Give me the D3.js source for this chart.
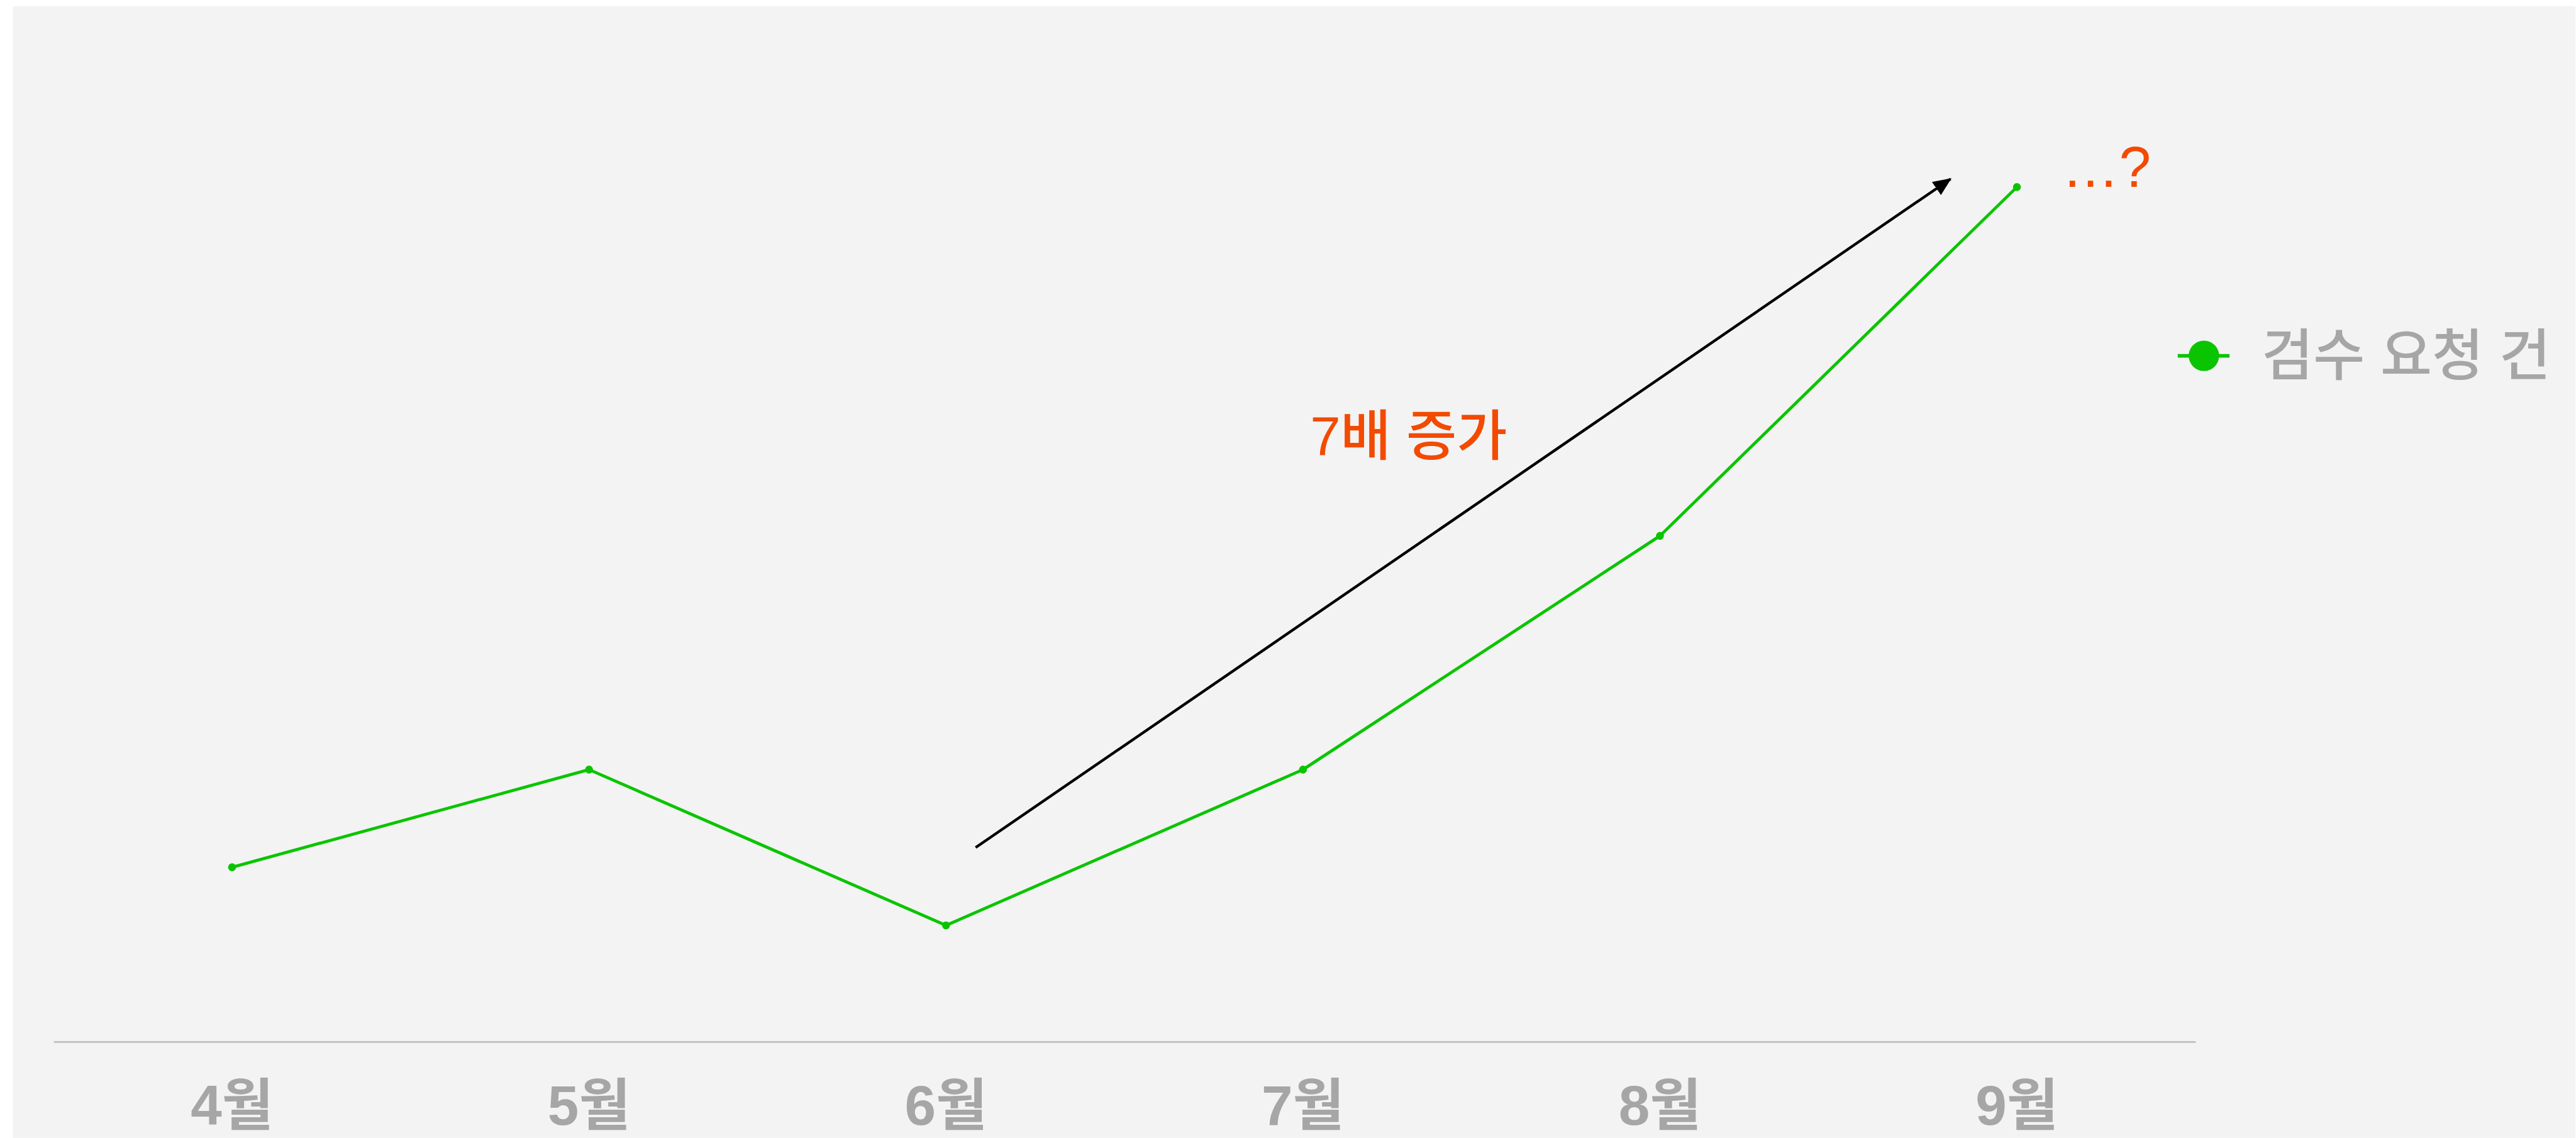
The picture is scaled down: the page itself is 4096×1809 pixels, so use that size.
<!DOCTYPE html>
<html lang="ko">
    <head>
        <meta charset="utf-8" />
        <title>검수 요청 건</title>
        <script src="https://cdnjs.cloudflare.com/ajax/libs/d3/7.7.0/d3.min.js"></script>
        <style>
            html, body { margin: 0; padding: 0; background: #ffffff; overflow: hidden; }
            svg { display: block; }
            text { font-family: "Liberation Sans", "Noto Sans CJK KR", sans-serif; }
        </style>
    </head>
    <body>
        <div class="graph"></div>
        <script>
    // data
    const months = ["4월", "5월", "6월", "7월", "8월", "9월"];
    const requests = [15.0, 23.4, 10.0, 23.4, 43.5, 73.5];
    const seriesName = "검수 요청 건";
    // annotations: [category position, value]
    const arrowFrom = [2.083, 16.7];
    const arrowTo = [4.814, 74.2];
    const growthLabel = "7배 증가";
    const growthAt = [3.02, 50.4];
    const moreLabel = "…?";
    const moreAt = [5.126, 73.5];

    // reference drawing size, scaled to the window with the viewBox
    const w = 4230;
    const h = 1868;
    const axisLeft = 88, axisRight = 3605, axisY = 1710, topY = 307;

    const svg = d3.select(".graph")
                  .append("svg")
                  .attr("width", 4096)
                  .attr("height", 1809)
                  .attr("viewBox", "0 0 " + w + " " + h);

    svg.append("rect")
       .attr("x", 21).attr("y", 10)
       .attr("width", w - 22).attr("height", h - 10)
       .attr("fill", "#f3f3f3");

    const xScale = d3.scaleBand()
                     .domain(months)
                     .range([axisLeft, axisRight]);
    const yScale = d3.scaleLinear()
                     .domain([0, d3.max(requests)])
                     .range([axisY, topY]);
    // fractional category positions for annotations
    const xPos = d3.scaleLinear()
                   .domain([0, months.length - 1])
                   .range([xScale(months[0]) + xScale.bandwidth() / 2,
                           xScale(months[months.length - 1]) + xScale.bandwidth() / 2]);

    // x axis
    const xAxis = d3.axisBottom(xScale).tickSize(0).tickPadding(0);
    const gx = svg.append("g")
       .attr("id", "x-axis")
       .attr("transform", "translate(0," + axisY + ")")
       .call(xAxis);
    gx.select(".domain").attr("stroke", "#bfbfbf").attr("stroke-width", 3);
    gx.selectAll(".tick text")
      .attr("y", 136)
      .attr("dy", null)
      .attr("fill", "#a6a6a6")
      .attr("font-size", 92)
      .attr("font-weight", "bold")
      .style("font-family", '"Liberation Sans", "Noto Sans CJK KR", sans-serif');

    // arrow
    const defs = svg.append("defs");
    defs.append("marker")
        .attr("id", "head")
        .attr("markerUnits", "userSpaceOnUse")
        .attr("viewBox", "0 0 30 26")
        .attr("refX", 28).attr("refY", 13)
        .attr("markerWidth", 30).attr("markerHeight", 26)
        .attr("orient", "auto")
        .append("path")
        .attr("d", "M0,0 L30,13 L0,26 Z")
        .attr("fill", "#000");
    svg.append("line")
       .attr("x1", xPos(arrowFrom[0])).attr("y1", yScale(arrowFrom[1]))
       .attr("x2", xPos(arrowTo[0])).attr("y2", yScale(arrowTo[1]))
       .attr("stroke", "#000")
       .attr("stroke-width", 4.5)
       .attr("marker-end", "url(#head)");

    // series line
    const line = d3.line()
                   .x((d, i) => xScale(months[i]) + xScale.bandwidth() / 2)
                   .y(d => yScale(d));
    svg.append("path")
       .datum(requests)
       .attr("d", line)
       .attr("fill", "none")
       .attr("stroke", "#0bc400")
       .attr("stroke-width", 5)
       .attr("stroke-linejoin", "round");
    svg.selectAll("circle.pt")
       .data(requests)
       .enter()
       .append("circle")
       .attr("class", "pt")
       .attr("cx", (d, i) => xScale(months[i]) + xScale.bandwidth() / 2)
       .attr("cy", d => yScale(d))
       .attr("r", 6.5)
       .attr("fill", "#0bc400");

    // annotation texts
    svg.append("text")
       .attr("x", xPos(growthAt[0])).attr("y", yScale(growthAt[1]))
       .attr("fill", "#f34a00")
       .attr("font-size", 90)
       .attr("font-weight", 500)
       .text(growthLabel);
    svg.append("text")
       .attr("x", xPos(moreAt[0])).attr("y", yScale(moreAt[1]))
       .attr("fill", "#f34a00")
       .attr("font-size", 94)
       .text(moreLabel);

    // legend
    const legend = svg.append("g").attr("transform", "translate(3619,584)");
    legend.append("line")
          .attr("x1", -43).attr("x2", 42)
          .attr("stroke", "#0bc400").attr("stroke-width", 6);
    legend.append("circle").attr("r", 25).attr("fill", "#0bc400");
    legend.append("text")
          .attr("x", 95).attr("y", 31)
          .attr("fill", "#a6a6a6")
          .attr("font-size", 92)
          .attr("font-weight", 500)
          .text(seriesName);
        </script>
    </body>
</html>
